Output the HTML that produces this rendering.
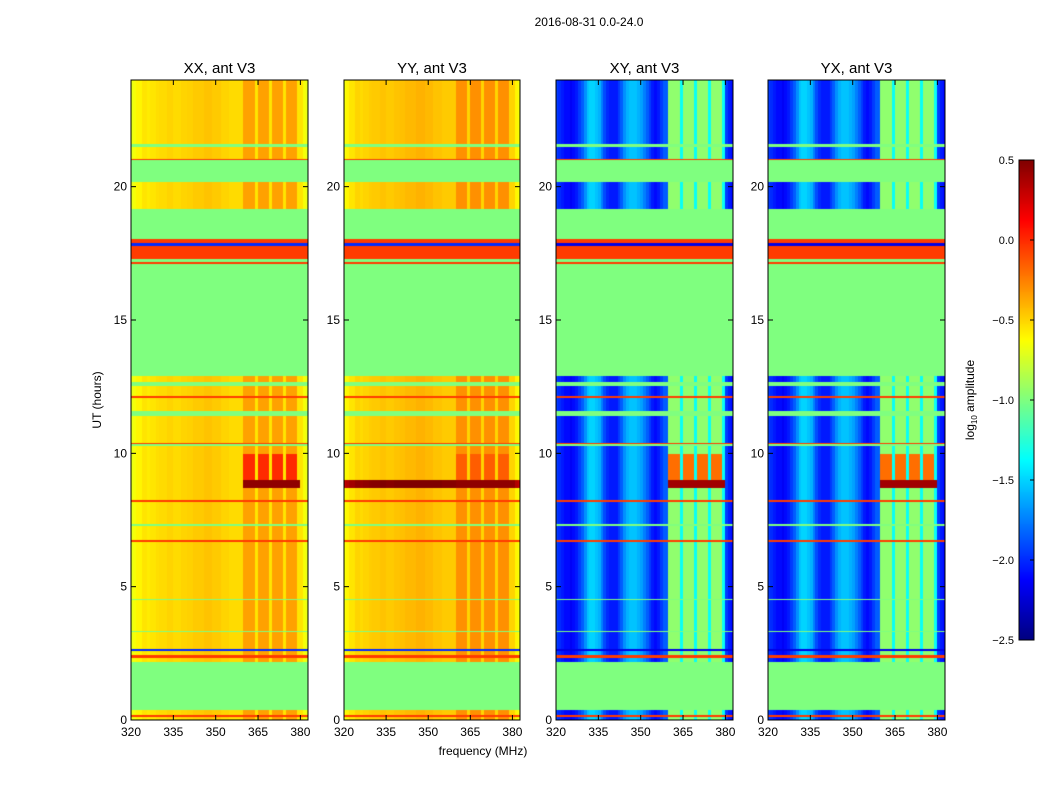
<!DOCTYPE html>
<html><head><meta charset="utf-8">
<style>
body{margin:0;background:#fff;width:1050px;height:800px;overflow:hidden;position:relative;font-family:"Liberation Sans","DejaVu Sans",sans-serif}
canvas{position:absolute}
svg{position:absolute;left:0;top:0}
</style></head>
<body>
<canvas id="c0" width="177" height="640" style="left:131px;top:80px"></canvas>
<canvas id="c1" width="176" height="640" style="left:344px;top:80px"></canvas>
<canvas id="c2" width="177" height="640" style="left:556px;top:80px"></canvas>
<canvas id="c3" width="177" height="640" style="left:768px;top:80px"></canvas>
<canvas id="cb" width="15" height="480" style="left:1019px;top:160px"></canvas>
<svg id="ov" width="1050" height="800"></svg>
<script>
// time bands (hours) and kinds
const bandStart=[0,0.12,0.2,0.4,2.2,2.35,2.45,2.6,2.68,3.3,3.36,4.5,4.56,6.7,6.76,7.3,7.36,8.2,8.26,8.7,9.0,10.0,10.3,10.36,10.42,11.4,11.6,12.1,12.16,12.55,12.7,12.9,17.1,17.2,17.3,17.8,17.9,18.05,19.2,20.2,21.0,21.05,21.5,21.6];
const bandEnd=[0.12,0.2,0.4,2.2,2.35,2.45,2.6,2.68,3.3,3.36,4.5,4.56,6.7,6.76,7.3,7.36,8.2,8.26,8.7,9.0,10.0,10.3,10.36,10.42,11.4,11.6,12.1,12.16,12.55,12.7,12.9,17.1,17.2,17.3,17.8,17.9,18.05,19.2,20.2,21.0,21.05,21.5,21.6,24];
const bandKind=['d','r','d','f','d','r','d','b','d','f','d','f','d','r','d','f','d','r','d','k','h','d','f','r','d','f','d','r','d','f','d','f','r','f','r','b','r','f','d','f','r','d','f','d'];
// levels (log10 amplitude) per kind for low-freq and RFI (hf) regions
const lowXX={d:-0.55,r:-0.05,f:-1.0,b:-2.0,k:-0.55,h:-0.55};
const hfXX={d:-0.35,r:-0.05,f:-1.0,b:-2.0,k:0.45,h:0.0};
const lowYY={d:-0.5,r:-0.05,f:-1.0,b:-2.0,k:0.45,h:-0.5};
const hfYY={d:-0.3,r:-0.05,f:-1.0,b:-2.0,k:0.45,h:-0.15};
const lowXY={d:-1.85,r:-0.05,f:-1.0,b:-2.2,k:-1.85,h:-1.85};
const hfXY={d:-0.95,r:-0.05,f:-1.0,b:-2.2,k:0.4,h:-0.2};
const gapVal=[-0.55,-0.5,-1.35,-1.35];
// frequency channels 320..382 MHz
const profXX=[-0.15,-0.1,-0.05,-0.05,0,0,-0.02,0,0,0.02,0.03,0.03,0.03,0.05,0.05,0.03,0.03,0.03,0.05,0.05,0.06,0.06,0.08,0.08,0.08,0.08,0.1,0.1,0.1,0.08,0.08,0.08,0.05,0.05,0.05,0.03,0.03,0.03,0.03,0.03,0,0,0,0,0,0,0,0,0,0,0,0,0,0,0,0,0,0,0,0,0,-0.1,-0.15];
const profXY=[-0.1,-0.15,-0.2,-0.25,-0.25,-0.3,-0.25,-0.2,-0.1,0,0.15,0.3,0.35,0.35,0.3,0.25,0.1,-0.05,-0.15,-0.2,-0.2,-0.2,-0.1,0,0.15,0.25,0.3,0.3,0.3,0.25,0.2,0.1,0,-0.1,-0.2,-0.25,-0.2,-0.1,0,0,0,0,0,0,0,0,0,0,0,0,0,0,0,0,0,0,0,0,0,0,-0.1,-0.2,-0.25];
const hfMask=[0,0,0,0,0,0,0,0,0,0,0,0,0,0,0,0,0,0,0,0,0,0,0,0,0,0,0,0,0,0,0,0,0,0,0,0,0,0,0,0,1,1,1,1,2,1,1,1,1,2,1,1,1,1,2,1,1,1,1,2,0,0,0];
const cbTicks=[0.5,0.0,-0.5,-1.0,-1.5,-2.0,-2.5];
const xTicks=[320,335,350,365,380];
const yTicks=[0,5,10,15,20];

const VMIN=-2.5,VMAX=0.5,FMIN=320,FMAX=382.7,TMAX=24;
function jet(v){let t=(v-VMIN)/(VMAX-VMIN);t=Math.max(0,Math.min(1,t));
 const f=(x)=>Math.max(0,Math.min(1,x));
 const r=f(Math.min(4*t-1.5,-4*t+4.5)),g=f(Math.min(4*t-0.5,-4*t+3.5)),b=f(Math.min(4*t+0.5,-4*t+2.5));
 return `rgb(${r*255|0},${g*255|0},${b*255|0})`;}
const panels=[
 {id:'c0',low:lowXX,hf:hfXX,prof:profXX,gi:0},
 {id:'c1',low:lowYY,hf:hfYY,prof:profXX,gi:1},
 {id:'c2',low:lowXY,hf:hfXY,prof:profXY,gi:2},
 {id:'c3',low:lowXY,hf:hfXY,prof:profXY,gi:3}];
panels.forEach(p=>{
 const cv=document.getElementById(p.id),ctx=cv.getContext('2d'),W=cv.width,H=cv.height;
 const xs=f=>(f-FMIN)/(FMAX-FMIN)*W, ys=t=>H-t/TMAX*H;
 for(let b=0;b<bandKind.length;b++){
  const k=bandKind[b];const y0=ys(bandEnd[b]),y1=ys(bandStart[b]);
  for(let c=0;c<profXY.length;c++){
   let v;
   const m=hfMask[c];
   if(k==='f'||k==='r'||k==='b') v=p.low[k];
   else if(m===1) v=p.hf[k];
   else if(m===2) v=(k==='k')?p.hf[k]:gapVal[p.gi];
   else v=p.low[k]+p.prof[c];
   ctx.fillStyle=jet(v);
   const x0=Math.floor(xs(FMIN+c)),x1=Math.ceil(xs(FMIN+c+1));
   ctx.fillRect(x0,Math.floor(y0),x1-x0,Math.ceil(y1)-Math.floor(y0));
  }
 }
});
// colorbar
(function(){const cv=document.getElementById('cb'),ctx=cv.getContext('2d');
 for(let y=0;y<480;y++){ctx.fillStyle=jet(VMAX-(y+0.5)/480*(VMAX-VMIN));ctx.fillRect(0,y,15,1);} })();

const NS='http://www.w3.org/2000/svg',ov=document.getElementById('ov');
function el(tag,attrs,txt){const e=document.createElementNS(NS,tag);for(const k in attrs)e.setAttribute(k,attrs[k]);if(txt!==undefined)e.textContent=txt;ov.appendChild(e);return e;}
const boxes=[[131,308,'XX, ant V3'],[344,520,'YY, ant V3'],[556,733,'XY, ant V3'],[768,945,'YX, ant V3']];
boxes.forEach((bx,i)=>{
 const [L,R,title]=bx,T=80,B=720;
 const fr=el('rect',{x:L,y:T,width:R-L,height:B-T,fill:'none',stroke:'#000','stroke-width':1});
 
 
 const tt=el('text',{x:(L+R)/2,y:73,'text-anchor':'middle','font-size':15},title);
 
 
 xTicks.forEach(f=>{const x=L+(f-FMIN)/(FMAX-FMIN)*(R-L);
  el('line',{x1:x,x2:x,y1:B,y2:B-5,stroke:'#000'});el('line',{x1:x,x2:x,y1:T,y2:T+5,stroke:'#000'});
  const t=el('text',{x:x,y:736,'text-anchor':'middle','font-size':12},String(f));
  
  });
 yTicks.forEach(h=>{const y=B-h/TMAX*(B-T);
  el('line',{x1:L,x2:L+5,y1:y,y2:y,stroke:'#000'});el('line',{x1:R,x2:R-5,y1:y,y2:y,stroke:'#000'});
  const t=el('text',{x:L-4,y:y+4,'text-anchor':'end','font-size':12},String(h));
  
  });
});
const st=el('text',{x:589,y:26,'text-anchor':'middle','font-size':12},'2016-08-31 0.0-24.0');


const yl=el('text',{x:0,y:0,'text-anchor':'middle','font-size':12,transform:'translate(101,400) rotate(-90)'},'UT (hours)');


const xl=el('text',{x:483,y:755,'text-anchor':'middle','font-size':12},'frequency (MHz)');


const cf=el('rect',{x:1019,y:160,width:15,height:480,fill:'none',stroke:'#000'});


cbTicks.forEach(v=>{const y=160+(VMAX-v)/(VMAX-VMIN)*480;
 el('line',{x1:1030,x2:1034,y1:y,y2:y,stroke:'#000'});
 const t=el('text',{x:1014,y:y+4,'font-size':11,'text-anchor':'end'},(v<0?'\u2212':'')+Math.abs(v).toFixed(1));
 
 });
const cl=el('text',{x:0,y:0,'text-anchor':'middle','font-size':12,transform:'translate(974,400) rotate(-90)'});


cl.innerHTML='log<tspan font-size="8" dy="3">10</tspan><tspan dy="-3"> amplitude</tspan>';
</script>
</body></html>
